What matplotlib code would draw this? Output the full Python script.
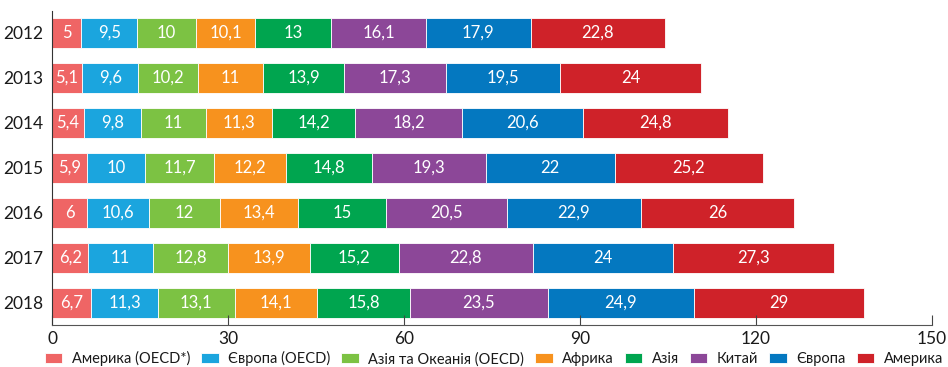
import matplotlib.pyplot as plt
import numpy as np

plt.rcParams['font.family'] = ['Lato', 'DejaVu Sans']

years = ['2012', '2013', '2014', '2015', '2016', '2017', '2018']
series = ['Америка (OECD*)', 'Європа (OECD)', 'Азія та Океанія (OECD)', 'Африка',
          'Азія', 'Китай', 'Європа', 'Америка']

america_oecd = [5, 5.1, 5.4, 5.9, 6, 6.2, 6.7]
europe_oecd = [9.5, 9.6, 9.8, 10, 10.6, 11, 11.3]
asia_oceania_oecd = [10, 10.2, 11, 11.7, 12, 12.8, 13.1]
africa = [10.1, 11, 11.3, 12.2, 13.4, 13.9, 14.1]
asia = [13, 13.9, 14.2, 14.8, 15, 15.2, 15.8]
china = [16.1, 17.3, 18.2, 19.3, 20.5, 22.8, 23.5]
europe = [17.9, 19.5, 20.6, 22, 22.9, 24, 24.9]
america = [22.8, 24, 24.8, 25.2, 26, 27.3, 29]

colors = ['#EF6565', '#1BA5DE', '#7CC243', '#F7921E', '#00A54F', '#8C4798', '#0478C0', '#CF2229']

data = [america_oecd, europe_oecd, asia_oceania_oecd, africa, asia, china, europe, america]

fig = plt.figure(figsize=(9.48, 3.67), dpi=100)
ax = fig.add_axes([0.0549, 0.1144, 0.9283, 0.856])

y = np.arange(len(years))
left = np.zeros(len(years))
for vals, name, c in zip(data, series, colors):
    vals = np.array(vals)
    ax.barh(y, vals, left=left, height=0.68, color=c, label=name,
            edgecolor='white', linewidth=0.6)
    for yi, l, v in zip(y, left, vals):
        txt = ('%g' % v).replace('.', ',')
        ax.text(l + v / 2, yi, txt, ha='center', va='center',
                color='white', fontsize=12)
    left += vals

ax.set_xlim(0, 150)
ax.set_ylim(6.49, -0.49)
ax.set_yticks(y)
ax.set_yticklabels(years, fontsize=12.5, color='#1a1a1a')
ax.set_xticks([0, 30, 60, 90, 120, 150])
ax.tick_params(axis='y', length=0, pad=6)
ax.tick_params(axis='x', direction='in', length=7, labelsize=12.5,
               colors='#444444', labelcolor='#1a1a1a', pad=4)
for s in ['top', 'right']:
    ax.spines[s].set_visible(False)
ax.spines['left'].set_color('#333333')
ax.spines['bottom'].set_color('#555555')

fig.legend(loc='center', bbox_to_anchor=(0.521, 0.022), ncol=8, frameon=False,
           fontsize=10.5, handlelength=1.2, handleheight=0.7, handletextpad=0.65,
           columnspacing=0.75, borderaxespad=0, borderpad=0,
           labelcolor='#1a1a1a')

fig.savefig('out.png', dpi=100)
